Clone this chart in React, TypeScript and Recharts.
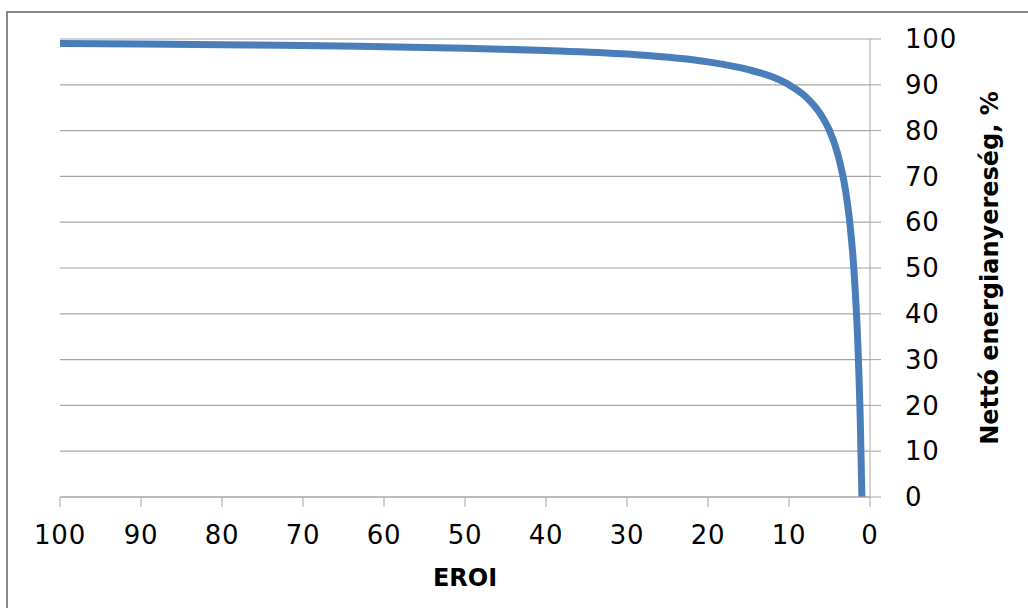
import React from "react";
import { LineChart, Line, XAxis, YAxis, CartesianGrid, Label } from "recharts";

// EROI values, with net energy gain (%) at each
const eroi = [100, 90, 80, 70, 60, 50, 40, 30, 20, 15, 12, 10, 8, 6, 5, 4, 3, 2.5, 2, 1.5, 1.2, 1];
const netGain = [99, 98.9, 98.75, 98.6, 98.3, 98, 97.5, 96.7, 95, 93.3, 91.7, 90, 87.5, 83.3, 80, 75, 66.7, 60, 50, 33.3, 16.7, 0];
const xTicks = [0, 10, 20, 30, 40, 50, 60, 70, 80, 90, 100];
const yTicks = [0, 10, 20, 30, 40, 50, 60, 70, 80, 90, 100];

const data = eroi.map((e, i) => ({ x: e, y: netGain[i] }));

const tickFont = { fontFamily: "DejaVu Sans, Verdana, sans-serif", fontSize: 26, letterSpacing: 0.8, fill: "#000" };
const titleStyle = {
  fontFamily: "'DejaVu Sans', sans-serif",
  fontWeight: 700,
  fontSize: 24,
  fill: "#000",
};

export default function App() {
  return (
    <div style={{ position: "fixed", left: 0, top: 0, width: 1028, height: 608, overflow: "hidden", background: "#fff" }}>
      <LineChart width={1028} height={608} data={data} margin={{ top: 39, right: 98, bottom: 31, left: 60 }}>
        <CartesianGrid vertical={false} stroke="#a6a6a6" strokeWidth={1.2} />
        <XAxis
          type="number"
          dataKey="x"
          domain={[0, 100]}
          ticks={xTicks}
          reversed
          interval={0}
          height={80}
          tick={tickFont}
          tickSize={10}
          tickMargin={19}
          axisLine={{ stroke: "#a6a6a6" }}
          tickLine={{ stroke: "#a6a6a6" }}
        >
          <Label
            content={({ viewBox }: any) => (
              <text
                x={viewBox.x + viewBox.width / 2}
                y={578}
                textAnchor="middle"
                dominantBaseline="central"
                style={titleStyle}
              >
                EROI
              </text>
            )}
          />
        </XAxis>
        <YAxis
          orientation="right"
          type="number"
          domain={[0, 100]}
          ticks={yTicks}
          interval={0}
          width={60}
          tick={{ ...tickFont, textAnchor: "start" }}
          tickSize={11}
          tickMargin={24}
          axisLine={{ stroke: "#a6a6a6" }}
          tickLine={{ stroke: "#a6a6a6" }}
        >
          <Label
            content={({ viewBox }: any) => {
              const cy = viewBox.y + viewBox.height / 2;
              const cx = 990;
              return (
                <text
                  x={cx}
                  y={cy}
                  transform={`rotate(-90 ${cx} ${cy})`}
                  textAnchor="middle"
                  dominantBaseline="central"
                  style={titleStyle}
                >
                  Nettó energianyereség, %
                </text>
              );
            }}
          />
        </YAxis>
        <Line
          type="monotone"
          dataKey="y"
          stroke="#4a7ebb"
          strokeWidth={7}
          dot={false}
          activeDot={false}
          isAnimationActive={false}
        />
      </LineChart>
      {/* outer chart frame: only its top and left edges are in view */}
      <svg width={1028} height={608} style={{ position: "absolute", left: 0, top: 0, pointerEvents: "none" }}>
        <polyline points="7,608 7,12 1028,12" fill="none" stroke="#8a8a8a" strokeWidth={2} />
      </svg>
    </div>
  );
}
